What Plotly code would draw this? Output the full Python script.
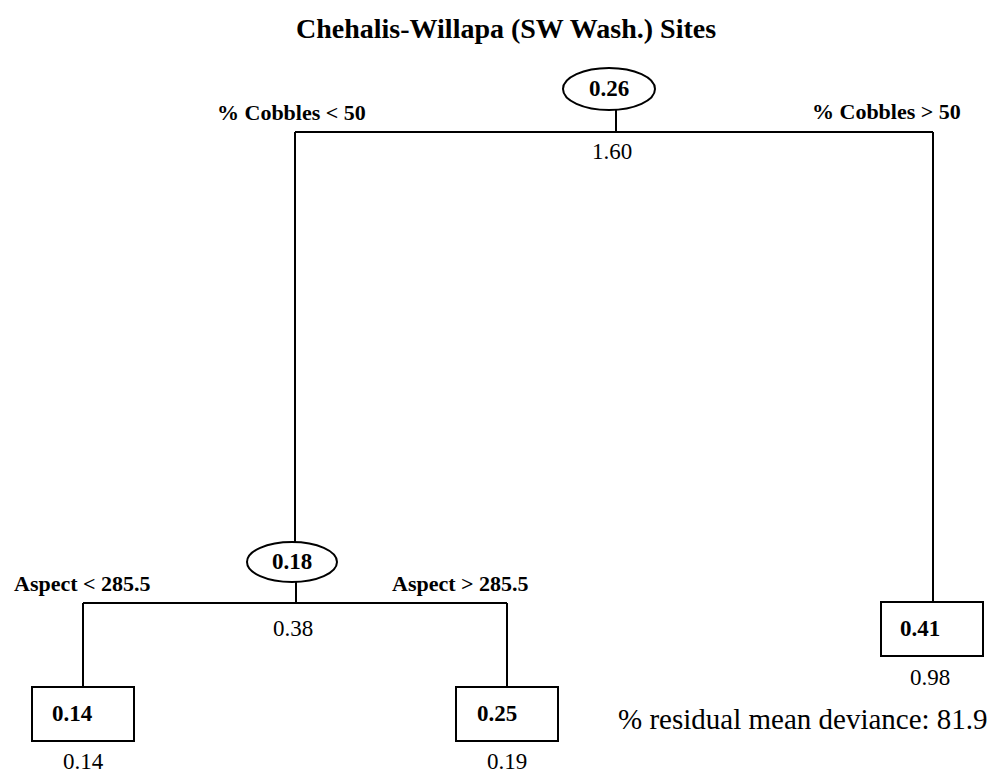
import plotly.graph_objects as go

# ---- data ----
title_text = "Chehalis-Willapa (SW Wash.) Sites"
node_means = ["0.26", "0.18", "0.14", "0.25", "0.41"]          # mean response at node
node_deviance = ["1.60", "0.38", "0.14", "0.19", "0.98"]        # deviance at node
node_kind = ["split", "split", "leaf", "leaf", "leaf"]
split_left = ["% Cobbles < 50", "Aspect < 285.5"]
split_right = ["% Cobbles > 50", "Aspect > 285.5"]
residual_mean_deviance = 81.9

# ---- layout (pixel space of the page) ----
W, H = 1003, 775
OFF = 8  # page body margin compensation
FONT = "Liberation Serif, Times New Roman, serif"
node_cx = [609, 292, 83, 507, 932]
node_cy = [89, 562, 714, 714, 629]
node_hw = [46, 45, 51, 51, 51]
node_hh = [21, 20, 27, 27, 27]
mean_text_x = [609, 292, 72, 497, 920]
dev_text = [(612, 151), (293, 628), (83, 761), (507, 761), (930, 677)]
# split bars: (parent index, y of bar, x left, x right, stem x, left child, right child)
splits = [(0, 132, 295, 933, 616, 1, 4), (1, 603, 83, 507, 296, 2, 3)]
split_lbl_pos_left = [(291, 112), (82, 583)]
split_lbl_pos_right = [(886, 111), (460, 583)]
child_x = {1: 295, 4: 933, 2: 83, 3: 507}

fig = go.Figure()
shapes = []
LINE = dict(color="black", width=2)

for i, kind in enumerate(node_kind):
    x0, x1 = node_cx[i] - node_hw[i], node_cx[i] + node_hw[i]
    y0, y1 = node_cy[i] - node_hh[i], node_cy[i] + node_hh[i]
    shapes.append(dict(type="circle" if kind == "split" else "rect",
                       xref="x", yref="y", x0=x0, x1=x1, y0=y0, y1=y1, line=LINE))

for (p, ybar, xl, xr, sx, lc, rc) in splits:
    shapes.append(dict(type="line", xref="x", yref="y", x0=sx, x1=sx,
                       y0=node_cy[p] + node_hh[p], y1=ybar, line=LINE))
    shapes.append(dict(type="line", xref="x", yref="y", x0=xl, x1=xr,
                       y0=ybar, y1=ybar, line=LINE))
    for c in (lc, rc):
        shapes.append(dict(type="line", xref="x", yref="y", x0=child_x[c], x1=child_x[c],
                           y0=ybar, y1=node_cy[c] - node_hh[c], line=LINE))

ann = []
ann.append(dict(x=506, y=28, text="<b>" + title_text + "</b>", showarrow=False,
                font=dict(family=FONT, size=28, color="black"), xref="x", yref="y"))
for i in range(len(node_means)):
    ann.append(dict(x=mean_text_x[i], y=node_cy[i] - 1, text="<b>" + node_means[i] + "</b>",
                    showarrow=False, font=dict(family=FONT, size=23, color="black"),
                    xref="x", yref="y"))
    ann.append(dict(x=dev_text[i][0], y=dev_text[i][1], text=node_deviance[i], showarrow=False,
                    font=dict(family=FONT, size=23, color="black"), xref="x", yref="y"))
for k in range(len(split_left)):
    ann.append(dict(x=split_lbl_pos_left[k][0], y=split_lbl_pos_left[k][1],
                    text="<b>" + split_left[k] + "</b>", showarrow=False,
                    font=dict(family=FONT, size=22, color="black"), xref="x", yref="y"))
    ann.append(dict(x=split_lbl_pos_right[k][0], y=split_lbl_pos_right[k][1],
                    text="<b>" + split_right[k] + "</b>", showarrow=False,
                    font=dict(family=FONT, size=22, color="black"), xref="x", yref="y"))
ann.append(dict(x=803, y=719, text="% residual mean deviance: " + f"{residual_mean_deviance:.1f}",
                showarrow=False, font=dict(family=FONT, size=29, color="black"),
                xref="x", yref="y"))

fig.update_layout(
    width=W - OFF, height=H - OFF,
    margin=dict(l=0, r=0, t=0, b=0),
    paper_bgcolor="white", plot_bgcolor="white",
    shapes=shapes, annotations=ann,
    xaxis=dict(range=[OFF, W], visible=False, fixedrange=True),
    yaxis=dict(range=[H, OFF], visible=False, fixedrange=True),
    showlegend=False,
)
fig.write_html("out.html")
